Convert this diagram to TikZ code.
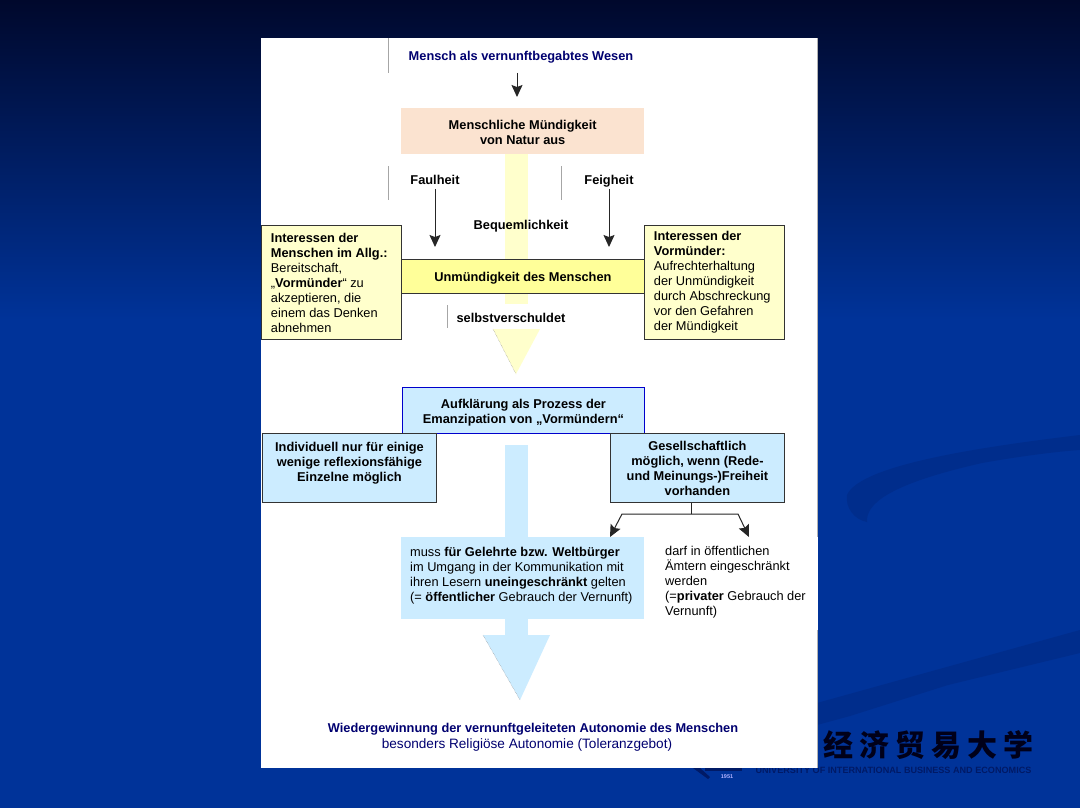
\documentclass[tikz,border=0pt]{standalone}
\usepackage{fontspec}
\setmainfont{Liberation Sans}
\newfontfamily\cjkfont{Noto Sans CJK SC}
\usetikzlibrary{positioning,arrows.meta}
\definecolor{navytext}{HTML}{000070}
\definecolor{peachfill}{HTML}{FBE3D0}
\definecolor{palefill}{HTML}{FFFFCC}
\definecolor{strongfill}{HTML}{FFFF99}
\definecolor{paleblue}{HTML}{CCECFF}
\definecolor{slidetop}{HTML}{00082C}
\definecolor{slidebottom}{HTML}{003399}
\definecolor{slideband}{HTML}{002D8C}
\definecolor{logodark}{HTML}{001A66}
\tikzstyle{flow edge}=[-{Stealth[length=12pt,width=11pt,inset=2pt]},line width=1pt,black!85]
\tikzstyle{grey rule}=[black!35,line width=0.8pt]
\tikzstyle{one line}=[text height=12pt,text depth=1.5pt]
\tikzstyle{flow box}=[anchor=north west,inner sep=0pt,font=\fontsize{12.8}{15}\selectfont\bfseries,align=center]
\tikzstyle{side box}=[anchor=north west,draw=black!80,line width=0.9pt,inner xsep=9.5pt,inner ysep=0pt,text width=121pt,align=flush left,minimum height=114pt]
\newcommand{\flowbox}[7][]{
  \node [flow box,minimum width=#5pt,minimum height=#6pt,#1] (#2) at (#3,#4) {#7}
}
\newcommand{\flowtext}[4][]{
  \node [inner sep=0pt,font=\fontsize{12.8}{15}\selectfont,#1] (#2) at (#3) {#4}
}

\begin{document}
\begin{tikzpicture}[x=1pt,y=-1pt]
        \useasboundingbox (0,0) rectangle (1080,808);
        \shade [top color=slidetop,bottom color=slidebottom] (0,0) rectangle (1080,320);
        \fill [slidebottom] (0,320) rectangle (1080,808);
        \fill [slideband] (1080,435) .. controls (980,447) and (860,465) .. (847,495) .. controls (845,508) and (855,520) .. (867,522) .. controls (866,505) and (885,485) .. (982,463) .. controls (1010,458) and (1050,452) .. (1080,450) -- cycle;
        \fill [slideband] (817,703) -- (1080,630) -- (1080,653) -- (948,685) -- (850,716) -- (817,725) -- cycle;

        % logo, partly under the white sheet
        \node [inner sep=0pt,text=black!90!blue,font=\cjkfont\bfseries\fontsize{30}{30}\selectfont] (cjkname) at (928,745) {经\hspace{6pt}济\hspace{6pt}贸\hspace{6pt}易\hspace{6pt}大\hspace{6pt}学};
        \node [inner sep=0pt,text=logodark,font=\fontsize{9.1}{10}\selectfont\bfseries] (latinname) at (893.5,770) {UNIVERSITY OF INTERNATIONAL BUSINESS AND ECONOMICS};
        \node [inner sep=0pt,text=white!70!blue,font=\fontsize{5.5}{6}\selectfont\bfseries] (founded) at (727,777) {1951};
        \fill [logodark] (693,768) -- (708,779) -- (710,777) -- (700,768) -- cycle;
        \fill [logodark] (705,768) rectangle (742,771);

        \fill [black!30] (817,38) rectangle (818,768);
        \fill [white] (261,38) rectangle (817,768);
        \fill [white] (800,537) rectangle (818,630);

        % stems behind the boxes
        \fill [palefill] (505,154) rectangle (528,304);
        \fill [palefill] (493,329) -- (540,329) -- (516,374) -- cycle;
        \draw [black!50,densely dotted] (493,329) -- (516,374);
        \fill [paleblue] (505,445) rectangle (528,640);
        \fill [paleblue] (483,635) -- (550,635) -- (520,700) -- cycle;
        \draw [black!50,densely dotted] (483,635) -- (520,700);

        \flowtext[one line,text=navytext,font=\fontsize{12.8}{15}\selectfont\bfseries]{wesen}{521,55}{Mensch als vernunftbegabtes Wesen};
        \flowbox[fill=peachfill]{natur}{401}{108}{243}{46}{\rule{0pt}{12pt}Menschliche Mündigkeit\\von Natur aus};
        \flowbox[one line,fill=strongfill,draw=black!80,line width=0.9pt]{unm}{401}{259}{243}{34}{Unmündigkeit des Menschen};
        \flowtext[one line,font=\fontsize{12.8}{15}\selectfont\bfseries]{faul}{435,179}{Faulheit};
        \flowtext[one line,font=\fontsize{12.8}{15}\selectfont\bfseries]{feig}{609,179}{Feigheit};
        \flowtext[one line,font=\fontsize{12.8}{15}\selectfont\bfseries]{bequem}{521,224}{Bequemlichkeit};
        \flowtext[one line,font=\fontsize{12.8}{15}\selectfont\bfseries]{selbst}{511,317}{selbstverschuldet};

        \flowtext[side box,fill=palefill]{intl}{261,225}{\textbf{Interessen der\\Menschen im Allg.:}\\Bereitschaft,\\„\textbf{Vormünder}“ zu\\akzeptieren, die\\einem das Denken\\abnehmen};
        \flowtext[side box,fill=palefill]{intr}{644,225}{\textbf{Interessen der\\Vormünder:}\\Aufrechterhaltung\\der Unmündigkeit\\durch Abschreckung\\vor den Gefahren\\der Mündigkeit};

        \flowbox[fill=paleblue,draw=blue!80!black,line width=0.9pt]{aufkl}{402}{387}{242}{46}{\rule{0pt}{14pt}Aufklärung als Prozess der\\Emanzipation von „Vormündern“};
        \flowbox[fill=paleblue,draw=black!80,line width=0.9pt]{indiv}{262}{433}{174}{69}{Individuell nur für einige\\wenige reflexionsfähige\\Einzelne möglich\\[-3pt]\mbox{}};
        \flowbox[fill=paleblue,draw=black!80,line width=0.9pt]{gesell}{610}{433}{174}{69}{Gesellschaftlich\\möglich, wenn (Rede-\\und Meinungs-)Freiheit\\vorhanden};
        \flowtext[fill=paleblue,anchor=north west,align=flush left,inner xsep=9pt,minimum height=82pt,text width=225pt]{gelehrt}{401,537}{muss \textbf{für Gelehrte bzw. Weltbürger}\\im Umgang in der Kommunikation mit\\ihren Lesern \textbf{uneingeschränkt} gelten\\(= \textbf{öffentlicher} Gebrauch der Vernunft)\\[-7pt]\mbox{}};
        \flowtext[anchor=north west,align=flush left]{privat}{665,546}{darf in öffentlichen\\Ämtern eingeschränkt\\werden\\(=\textbf{privater} Gebrauch der\\Vernunft)};
        \flowtext[one line,text=navytext,font=\fontsize{12.8}{15}\selectfont\bfseries]{autonomie}{533,727}{Wiedergewinnung der vernunftgeleiteten Autonomie des Menschen};
        \flowtext[one line,text=navytext,font=\fontsize{13.6}{15}\selectfont]{toleranz}{527,743}{besonders Religiöse Autonomie (Toleranzgebot)};

        \draw [grey rule] (388,38) -- (388,73);
        \draw [grey rule] (388,166) -- (388,200);
        \draw [grey rule] (561,166) -- (561,200);
        \draw [grey rule] (447,305) -- (447,328);

        \coordinate (wesenend) at (517,73);
        \coordinate (wesentip) at (517,97);
        \coordinate (fork) at (691,514);
        \coordinate (forkl) at (622,514);
        \coordinate (forkr) at (738,514);
        \coordinate (tipl) at (610,537);
        \coordinate (tipr) at (749,537);
        \coordinate (faulend) at (435,247);
        \coordinate (feigend) at (609,247);

        \draw[flow edge] (wesenend) -- (wesentip);
        \draw[flow edge,shorten <=3pt] (faul.south) -- (faulend);
        \draw[flow edge,shorten <=3pt] (feig.south) -- (feigend);
        \draw[line width=1pt,black!85] (gesell.south -| fork) -- (fork);
        \draw[flow edge] (fork) -- (forkl) -- (tipl);
        \draw[flow edge] (fork) -- (forkr) -- (tipr);
      \end{tikzpicture}
\end{document}
